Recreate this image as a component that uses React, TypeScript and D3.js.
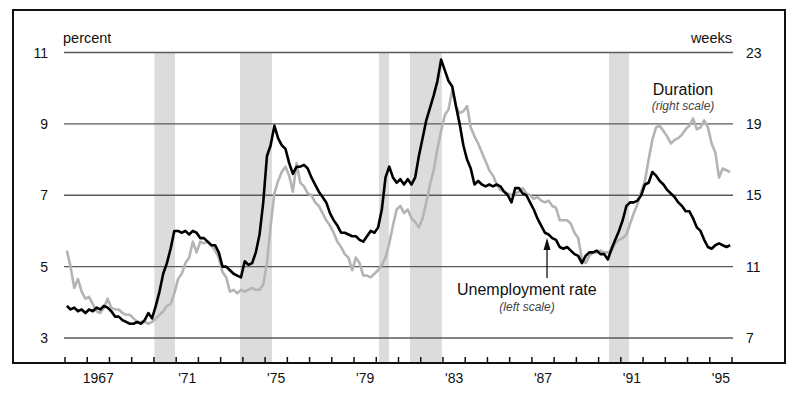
import React, { Component } from 'react';
import * as d3 from 'd3';

// monthly data thinned to two-month averages, Jan-Feb ... Nov-Dec, 1966-1995
const firstYear = 1966;
const perYear = 6;

// civilian unemployment rate, percent (left scale)
const unemployment = [
  3.9, 3.8, 3.85, 3.75, 3.8, 3.7,
  3.8, 3.75, 3.85, 3.8, 3.9, 3.85,
  3.75, 3.6, 3.6, 3.5, 3.45, 3.4,
  3.4, 3.45, 3.4, 3.5, 3.7, 3.55,
  3.9, 4.3, 4.8, 5.1, 5.5, 6.0,
  6.0, 5.95, 6.0, 5.9, 6.0, 5.95,
  5.8, 5.8, 5.7, 5.6, 5.6, 5.4,
  5.0, 5.0, 4.9, 4.8, 4.75, 4.7,
  5.15, 5.05, 5.1, 5.4, 5.9, 6.8,
  8.1, 8.4, 8.95, 8.6, 8.4, 8.3,
  7.9, 7.6, 7.8, 7.8, 7.85, 7.75,
  7.5, 7.3, 7.1, 6.95, 6.8, 6.5,
  6.3, 6.15, 5.95, 5.95, 5.9, 5.85,
  5.85, 5.75, 5.7, 5.85, 6.0, 5.95,
  6.1, 6.6, 7.5, 7.8, 7.5, 7.35,
  7.45, 7.3, 7.45, 7.3, 7.5, 8.1,
  8.6, 9.1, 9.45, 9.8, 10.2, 10.8,
  10.5, 10.2, 10.05, 9.5, 9.0, 8.4,
  8.0, 7.75, 7.3, 7.4, 7.3, 7.25,
  7.3, 7.25, 7.3, 7.25, 7.1, 7.0,
  6.8, 7.2, 7.2, 7.05, 7.0, 6.8,
  6.6, 6.35, 6.15, 5.95, 5.9, 5.8,
  5.75, 5.55, 5.5, 5.55, 5.45, 5.35,
  5.3, 5.1, 5.3, 5.4, 5.4, 5.45,
  5.35, 5.35, 5.2, 5.5, 5.75, 6.0,
  6.3, 6.7, 6.8, 6.8, 6.85, 7.0,
  7.3, 7.35, 7.65, 7.55, 7.4, 7.3,
  7.15, 7.05, 6.95, 6.8, 6.7, 6.55,
  6.55, 6.35, 6.1, 6.0, 5.75, 5.55,
  5.5, 5.6, 5.65, 5.6, 5.55, 5.6,
];

// average duration of unemployment, weeks (right scale)
const duration = [
  11.9, 11.0, 9.8, 10.3, 9.6, 9.2,
  9.3, 8.9, 8.5, 8.4, 8.7, 9.2,
  8.7, 8.6, 8.6, 8.4, 8.3, 8.3,
  8.1, 7.9, 7.9, 7.9, 7.8, 7.9,
  8.1, 8.3, 8.5, 8.8, 8.9, 9.5,
  10.3, 10.6, 11.2, 11.5, 12.4, 11.8,
  12.4, 12.3, 12.4, 12.2, 11.9, 11.5,
  10.7, 10.4, 9.6, 9.7, 9.5, 9.7,
  9.6, 9.7, 9.8, 9.7, 9.7, 10.0,
  11.2, 13.3, 15.1, 15.8, 16.3, 16.6,
  16.1, 15.2, 16.8, 15.7, 15.5, 15.1,
  15.0, 14.6, 14.4, 14.0, 13.6, 13.3,
  12.9, 12.4, 12.1, 11.7, 11.5, 10.8,
  11.5, 11.2, 10.5, 10.5, 10.4, 10.6,
  10.8, 11.1, 11.5, 12.3, 13.3, 14.2,
  14.4, 14.0, 14.2, 13.7, 13.5, 13.2,
  13.7, 14.6, 15.6, 16.4, 17.6, 18.6,
  19.5, 19.8, 20.9, 20.0, 19.6, 19.7,
  20.0, 18.8, 18.3, 17.9, 17.4, 16.9,
  16.4, 16.1, 15.6, 15.3, 15.2, 15.1,
  15.0, 15.1, 15.2, 15.4, 15.1, 15.0,
  14.8, 14.9, 14.7, 14.6, 14.7, 14.4,
  14.3, 13.6, 13.6, 13.6, 13.4, 12.9,
  12.6, 11.4, 11.2, 11.6, 11.8, 11.8,
  11.9, 11.8, 11.8, 11.9, 12.3, 12.5,
  12.6, 12.8, 13.4, 14.0, 14.5, 15.2,
  15.8, 17.0, 18.1, 18.8, 18.9, 18.6,
  18.3, 17.9, 18.1, 18.2, 18.4, 18.7,
  18.9, 19.3, 18.7, 18.8, 19.2, 18.8,
  17.9, 17.4, 16.0, 16.5, 16.4, 16.3,
];

// recessions, start and end as decimal years
const recessions = [
  [1970.02, 1970.95],
  [1973.87, 1975.31],
  [1980.12, 1980.57],
  [1981.52, 1982.95],
  [1990.47, 1991.37],
];

const percentTicks = [3, 5, 7, 9, 11];
const weekTicks = [7, 11, 15, 19, 23];
const yearLabels = [
  { year: 1967, text: '1967' },
  { year: 1971, text: "'71" },
  { year: 1975, text: "'75" },
  { year: 1979, text: "'79" },
  { year: 1983, text: "'83" },
  { year: 1987, text: "'87" },
  { year: 1991, text: "'91" },
  { year: 1995, text: "'95" },
];

const FONT = '"Liberation Sans", Arial, Helvetica, sans-serif';

class App extends Component {
  componentDidMount() {
    this.drawChart();
  }

  drawChart = () => {
    const width = 800, height = 399;
    const plotLeft = 64, plotRight = 733;
    const axisY = 363;

    const svg = d3.select('#chart-panel')
      .append('svg')
      .attr('width', width)
      .attr('height', height)
      .style('position', 'absolute')
      .style('left', 0)
      .style('top', 0)
      .style('font-family', FONT);

    svg.append('rect').attr('width', width).attr('height', height).attr('fill', '#fff');

    const x = d3.scaleLinear().domain([1966, 1996]).range([65, 732]);
    const yL = d3.scaleLinear().domain([3, 11]).range([338, 52.5]);
    const yR = d3.scaleLinear().domain([7, 23]).range([338, 52.5]);

    // recession bars
    svg.append('g').selectAll('rect').data(recessions).enter().append('rect')
      .attr('x', (d) => x(d[0]))
      .attr('width', (d) => x(d[1]) - x(d[0]))
      .attr('y', yL(11))
      .attr('height', axisY - yL(11))
      .attr('fill', '#dcdcdc');

    // grid
    svg.append('g').selectAll('line').data(percentTicks).enter().append('line')
      .attr('x1', plotLeft).attr('x2', plotRight)
      .attr('y1', (d) => yL(d)).attr('y2', (d) => yL(d))
      .attr('stroke', '#5a5a5a').attr('stroke-width', 1.3);

    svg.append('g').selectAll('text').data(percentTicks).enter().append('text')
      .attr('x', 48).attr('y', (d) => yL(d) + 5)
      .attr('text-anchor', 'end').attr('font-size', 14).attr('fill', '#111')
      .text((d) => d);

    svg.append('g').selectAll('text').data(weekTicks).enter().append('text')
      .attr('x', 746).attr('y', (d) => yR(d) + 5)
      .attr('text-anchor', 'start').attr('font-size', 14).attr('fill', '#111')
      .text((d) => d);

    svg.append('text').attr('x', 63).attr('y', 43).attr('font-size', 14.5).attr('fill', '#111').text('percent');
    svg.append('text').attr('x', 732).attr('y', 43).attr('text-anchor', 'end').attr('font-size', 14.5).attr('fill', '#111').text('weeks');

    // lines
    const t = (i) => firstYear + (i + 0.5) / perYear;
    const durLine = d3.line().x((d, i) => x(t(i))).y((d) => yR(d));
    const unLine = d3.line().x((d, i) => x(t(i))).y((d) => yL(d));

    svg.append('path').datum(duration).attr('d', durLine)
      .attr('fill', 'none').attr('stroke', '#b4b4b4').attr('stroke-width', 2.6).attr('stroke-linejoin', 'round');
    svg.append('path').datum(unemployment).attr('d', unLine)
      .attr('fill', 'none').attr('stroke', '#000').attr('stroke-width', 2.6).attr('stroke-linejoin', 'round');

    // frame and x axis
    svg.append('rect').attr('x', 13).attr('y', 10).attr('width', 772).attr('height', axisY - 10)
      .attr('fill', 'none').attr('stroke', '#111').attr('stroke-width', 2);

    svg.append('g').selectAll('line').data(d3.range(1966, 1997)).enter().append('line')
      .attr('x1', (d) => x(d)).attr('x2', (d) => x(d))
      .attr('y1', axisY - 6).attr('y2', axisY)
      .attr('stroke', '#111').attr('stroke-width', 1.5);

    svg.append('g').selectAll('text').data(yearLabels).enter().append('text')
      .attr('x', (d) => x(d.year + 0.5)).attr('y', 383)
      .attr('text-anchor', 'middle').attr('font-size', 14).attr('fill', '#111')
      .text((d) => d.text);

    // labels
    svg.append('text').attr('x', 683).attr('y', 95).attr('text-anchor', 'middle')
      .attr('font-size', 16).attr('fill', '#111').text('Duration');
    svg.append('text').attr('x', 683).attr('y', 110).attr('text-anchor', 'middle')
      .attr('font-size', 12).attr('font-style', 'italic').attr('fill', '#444').text('(right scale)');

    svg.append('text').attr('x', 457).attr('y', 295)
      .attr('font-size', 16).attr('fill', '#111').text('Unemployment rate');
    svg.append('text').attr('x', 527).attr('y', 311).attr('text-anchor', 'middle')
      .attr('font-size', 12).attr('font-style', 'italic').attr('fill', '#444').text('(left scale)');

    const ax = x(1987.68), tipY = yL(5.8);
    svg.append('line').attr('x1', ax).attr('x2', ax).attr('y1', 278).attr('y2', tipY + 10)
      .attr('stroke', '#111').attr('stroke-width', 1.3);
    svg.append('path')
      .attr('d', `M${ax},${tipY} L${ax - 3.5},${tipY + 12} L${ax + 3.5},${tipY + 12} Z`)
      .attr('fill', '#111');
  }

  render() {
    return (
      <div id="chart-panel" />
    );
  }
}

export default App;
